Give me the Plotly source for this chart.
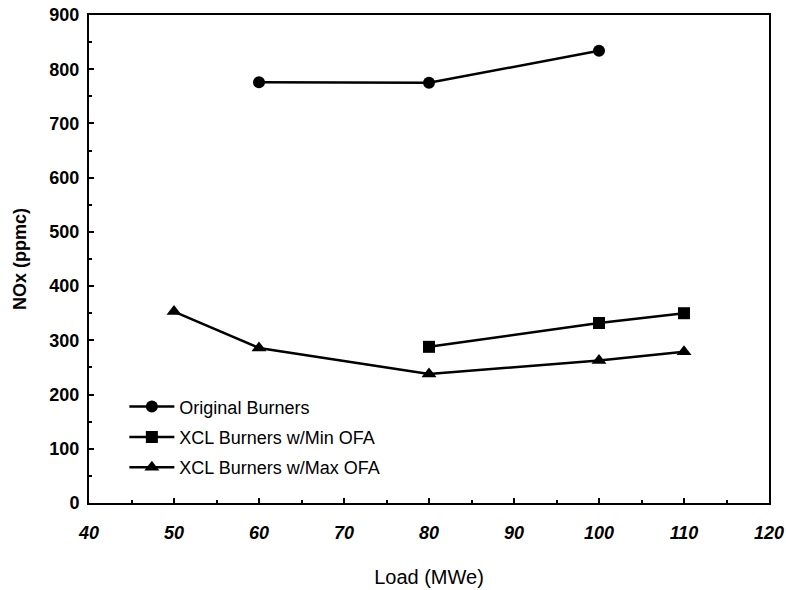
import plotly.graph_objects as go

orig_x = [60, 80, 100]
orig_y = [776, 775, 834]
min_x = [80, 100, 110]
min_y = [288, 332, 350]
max_x = [50, 60, 80, 100, 110]
max_y = [353, 286, 238, 263, 279]

names = ["Original Burners", "XCL Burners w/Min OFA", "XCL Burners w/Max OFA"]
FONT = "Liberation Sans, Arial, sans-serif"

fig = go.Figure()
fig.add_trace(go.Scatter(x=orig_x, y=orig_y, name=names[0], mode="lines+markers",
                         line=dict(color="black", width=2.5), legendgroup="a",
                         marker=dict(symbol="circle", size=12, color="black")))
fig.add_trace(go.Scatter(x=min_x, y=min_y, name=names[1], mode="lines+markers",
                         line=dict(color="black", width=2.5), legendgroup="b",
                         marker=dict(symbol="square", size=12, color="black")))
fig.add_trace(go.Scatter(x=max_x, y=max_y, name=names[2], mode="lines+markers",
                         line=dict(color="black", width=2.5), legendgroup="c",
                         marker=dict(symbol="triangle-up", size=13, color="black")))

axis_common = dict(showline=True, linecolor="black", linewidth=2, mirror=True,
                   ticks="inside", ticklen=5, tickcolor="black", tickwidth=1.5,
                   showgrid=False, zeroline=False, automargin=False)

fig.update_xaxes(range=[40, 120], dtick=10, tick0=40,
                 tickfont=dict(family=FONT, size=18, color="black", weight="bold", style="italic"),
                 ticklabelstandoff=12,
                 title=dict(text="Load (MWe)", font=dict(family=FONT, size=20, color="black"), standoff=28),
                 minor=dict(ticks="inside", ticklen=3, dtick=5, tickcolor="black"),
                 **axis_common)
fig.update_yaxes(range=[0, 900], dtick=100, tick0=0,
                 tickfont=dict(family=FONT, size=18, color="black", weight="bold"),
                 ticklabelstandoff=4,
                 title=dict(text="NOx (ppmc)", font=dict(family=FONT, size=18, color="black", weight="bold"), standoff=18),
                 minor=dict(ticks="inside", ticklen=3, dtick=50, tickcolor="black"),
                 **axis_common)

fig.update_layout(
    width=786, height=590,
    margin=dict(l=89, r=17, t=15, b=87),
    paper_bgcolor="white", plot_bgcolor="white",
    font=dict(family=FONT, color="black"),
    legend=dict(x=0.052, y=0.235, xanchor="left", yanchor="top",
                font=dict(family=FONT, size=18, color="black"),
                traceorder="grouped", tracegroupgap=4,
                bgcolor="rgba(0,0,0,0)", itemwidth=45),
    showlegend=True,
)

fig.write_html("out.html")
